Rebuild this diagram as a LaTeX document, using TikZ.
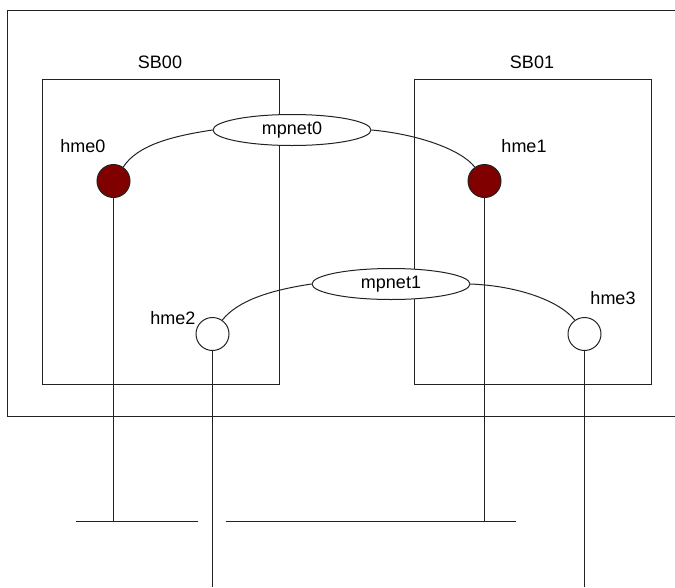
\documentclass[tikz,border=0pt]{standalone}
\usepackage{fontspec}
\setmainfont{Liberation Sans}
\usetikzlibrary{shapes.geometric}
\definecolor{maroonfill}{HTML}{800000}
\definecolor{linegray}{HTML}{222222}
\begin{document}
\begin{tikzpicture}[x=1pt,y=-1pt, line width=1pt, draw=linegray,
  lbl/.style={inner sep=0pt, text=black, font=\fontsize{18}{20}\selectfont},
  board/.style={draw=linegray, minimum width=237pt, minimum height=305pt, inner sep=0pt, anchor=north west},
  port/.style={circle, draw=linegray, minimum size=33pt, inner sep=0pt},
  active/.style={port, fill=maroonfill},
  standby/.style={port, fill=white},
  group/.style={ellipse, draw=linegray, fill=white, text=black, minimum width=158pt, minimum height=31pt, inner sep=0pt, font=\fontsize{18}{20}\selectfont}]
\useasboundingbox (0,0) rectangle (675,587);
% outer enclosure (right side runs off the picture)
\draw (675,10.5) -- (7.5,10.5) -- (7.5,416.5) -- (675,416.5);
% system boards
\node[board] (sb0) at (41.5,78.5) {};
\node[board] (sb1) at (413.5,78.5) {};
\node[lbl] (sb0l) at (160,62) {SB00};
\node[lbl] (sb1l) at (532,62) {SB01};
% bus coordinates
\coordinate (b0a) at (76,521.5);
\coordinate (b0b) at (198,521.5);
\coordinate (b1a) at (226,521.5);
\coordinate (b1b) at (516,521.5);
\coordinate (e2) at (212.5,587);
\coordinate (e3) at (584.5,587);
% ports
\node[active] (h0) at (113.5,181) {};
\node[active] (h1) at (484.5,181) {};
\node[standby] (h2) at (212.5,334) {};
\node[standby] (h3) at (584.5,334) {};
\node[lbl] (h0l) at (83,146) {hme0};
\node[lbl] (h1l) at (524,146) {hme1};
\node[lbl] (h2l) at (173,318) {hme2};
\node[lbl] (h3l) at (613,298) {hme3};
% vertical wires down to the networks
\draw (h0.south) -- (h0.south |- b0a);
\draw (h1.south) -- (h1.south |- b1b);
\draw (h2.south) -- (e2);
\draw (h3.south) -- (e3);
% buses
\draw (b0a) -- (b0b);
\draw (b1a) -- (b1b);
% IPMP groups
\node[group] (m0) at (292,130) {mpnet0};
\node[group] (m1) at (391,284) {mpnet1};
% group links
\draw (h0.55) .. controls +(14,-22) and +(-40,6) .. (m0.west);
\draw (m0.east) .. controls +(45,4) and +(-14,-18) .. (h1.125);
\draw (h2.55) .. controls +(16,-20) and +(-40,6) .. (m1.west);
\draw (m1.east) .. controls +(50,2) and +(-14,-18) .. (h3.125);
\end{tikzpicture}
\end{document}
